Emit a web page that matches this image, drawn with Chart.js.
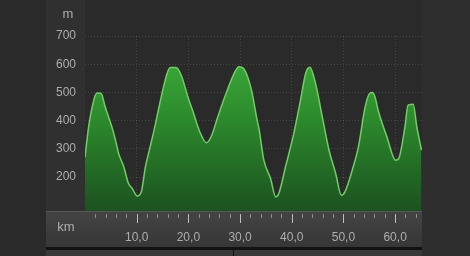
<!DOCTYPE html>
<html>
<head>
<meta charset="utf-8">
<script src="https://cdn.jsdelivr.net/npm/chart.js@4.4.1/dist/chart.umd.min.js"></script>
<style>
    html, body { margin: 0; padding: 0; background: #2a2a2a; }
    #wrap { width: 470px; height: 256px; position: relative; }
</style>
</head>
<body>
<div id="wrap"><canvas id="profile"></canvas></div>
<script>
/* global Chart */

// distance along the route (km) and elevation (m)
const distanceKm = [0, 0.7, 1.7, 2.3, 3.1, 3.9, 4.3, 5.2, 5.9, 6.5, 7.5, 8.4, 9.1, 10.1, 10.9, 11.7, 12.6, 13.3, 14.2, 14.9,
    15.9, 16.5, 17.6, 18.6, 19.9, 20.9, 22.2, 23.5, 24.4, 25.7, 27.3, 29.0, 29.8, 30.9, 32.2, 33.3, 33.7, 34.6, 35.9, 36.9,
    37.5, 38.8, 40.4, 41.7, 42.7, 43.5, 44.6, 45.9, 47.2, 48.5, 49.6, 50.3, 51.9, 52.9, 54.2, 55.1, 55.6, 56.1, 56.7, 58.4,
    60.1, 60.7, 61.9, 62.5, 63.5, 64.2, 65.1];
const elevationM = [271, 378, 473, 498, 497, 449, 427, 378, 331, 284, 237, 178, 161, 133, 148, 237, 307, 361, 438, 497,
    568, 588, 588, 562, 485, 432, 361, 322, 343, 414, 497, 573, 591, 579, 509, 402, 367, 260, 195, 130,
    142, 237, 355, 473, 568, 589, 532, 414, 296, 213, 136, 148, 237, 307, 449, 497, 500, 485, 438, 343,
    260, 266, 378, 455, 458, 378, 296];
const elevationTicks = [200, 300, 400, 500, 600, 700];
const distanceTicks = [10, 20, 30, 40, 50, 60];

const FONT = { family: '"Liberation Sans", Arial, sans-serif', size: 12 };
const LABEL_COLOR = '#adadad';

const formatKm = (value) => value.toFixed(1).replace('.', ',');

const panels = {
    id: 'panels',
    beforeDraw(chart) {
        const { ctx, chartArea } = chart;
        const x = chart.scales.x;
        const left = 46;
        ctx.save();
        ctx.fillStyle = '#2a2a2a';
        ctx.fillRect(0, 0, chart.width, chart.height);

        // side panels
        ctx.fillStyle = '#303030';
        ctx.fillRect(left, 0, chartArea.left - left, chartArea.bottom);
        ctx.fillStyle = '#2e2e2e';
        ctx.fillRect(chartArea.right, 0, chart.width - chartArea.right, chart.height);

        // distance axis panel
        const bottomPanel = ctx.createLinearGradient(0, chartArea.bottom, 0, x.bottom);
        bottomPanel.addColorStop(0, '#444444');
        bottomPanel.addColorStop(1, '#363636');
        ctx.fillStyle = bottomPanel;
        ctx.fillRect(left, chartArea.bottom, chartArea.right - left, x.bottom - chartArea.bottom);
        ctx.fillStyle = '#565656';
        ctx.fillRect(left, chartArea.bottom, chartArea.right - left, 1);

        ctx.fillStyle = '#121212';
        ctx.fillRect(left, x.bottom - 1, chartArea.right - left, 3);
        ctx.fillStyle = '#383838';
        ctx.fillRect(left, x.bottom + 2, chartArea.right - left, chart.height - x.bottom - 2);
        ctx.fillStyle = '#111111';
        ctx.fillRect(233, x.bottom + 2, 1, chart.height - x.bottom - 2);
        ctx.restore();
    },
    afterDraw(chart) {
        const { ctx, chartArea } = chart;
        const x = chart.scales.x;
        ctx.save();
        ctx.lineWidth = 1;
        x.ticks.forEach((tick) => {
            if (tick.value <= 0) {
                return;
            }
            const major = tick.value % 10 === 0;
            const px = Math.round(x.getPixelForValue(tick.value)) + 0.5;
            ctx.strokeStyle = major ? '#bdbdbd' : '#8c8c8c';
            ctx.beginPath();
            ctx.moveTo(px, chartArea.bottom + 3);
            ctx.lineTo(px, chartArea.bottom + (major ? 12 : 7));
            ctx.stroke();
        });

        ctx.fillStyle = LABEL_COLOR;
        ctx.font = `${FONT.size + 1}px ${FONT.family}`;
        ctx.textAlign = 'center';
        ctx.textBaseline = 'middle';
        ctx.fillText('m', 68, 14);
        ctx.fillText('km', 66, 227);
        ctx.restore();
    }
};

new Chart(document.getElementById('profile'), {
    type: 'line',
    data: {
        datasets: [{
            data: distanceKm.map((km, i) => ({ x: km, y: elevationM[i] })),
            borderColor: '#74cc68',
            borderWidth: 1.5,
            pointRadius: 0,
            cubicInterpolationMode: 'monotone',
            fill: 'start',
            backgroundColor: (context) => {
                const area = context.chart.chartArea;
                if (!area) {
                    return '#2f8a2f';
                }
                const gradient = context.chart.ctx.createLinearGradient(0, area.top, 0, area.bottom);
                gradient.addColorStop(0, '#3fb53d');
                gradient.addColorStop(0.45, '#2d8c2d');
                gradient.addColorStop(1, '#1c5220');
                return gradient;
            }
        }]
    },
    options: {
        responsive: true,
        maintainAspectRatio: false,
        animation: false,
        layout: { padding: { left: 46, top: 36, right: 48, bottom: 8 } },
        plugins: {
            legend: { display: false },
            tooltip: { enabled: false }
        },
        scales: {
            x: {
                type: 'linear',
                min: 0,
                max: 65.2,
                z: 1,
                afterFit: (scale) => { scale.height = 37; },
                border: { display: false, dash: [1, 2] },
                grid: {
                    drawTicks: false,
                    lineWidth: 1,
                    color: (ctx) => (distanceTicks.includes(ctx.tick && ctx.tick.value) ? 'rgba(255,255,255,0.13)' : 'transparent')
                },
                ticks: {
                    stepSize: 2,
                    includeBounds: false,
                    autoSkip: false,
                    maxRotation: 0,
                    padding: 19,
                    color: LABEL_COLOR,
                    font: FONT,
                    callback: (value) => (distanceTicks.includes(value) ? formatKm(value) : '')
                }
            },
            y: {
                min: 80,
                max: 700,
                z: 1,
                afterFit: (scale) => { scale.width = 39; },
                border: { display: false, dash: [1, 2] },
                grid: {
                    drawTicks: false,
                    color: (ctx) => (elevationTicks.includes(ctx.tick && ctx.tick.value) ? 'rgba(255,255,255,0.13)' : 'transparent')
                },
                ticks: {
                    stepSize: 100,
                    includeBounds: false,
                    padding: 9,
                    color: LABEL_COLOR,
                    font: FONT,
                    callback: (value) => (elevationTicks.includes(value) ? String(value) : '')
                }
            }
        }
    },
    plugins: [panels]
});
</script>
</body>
</html>
